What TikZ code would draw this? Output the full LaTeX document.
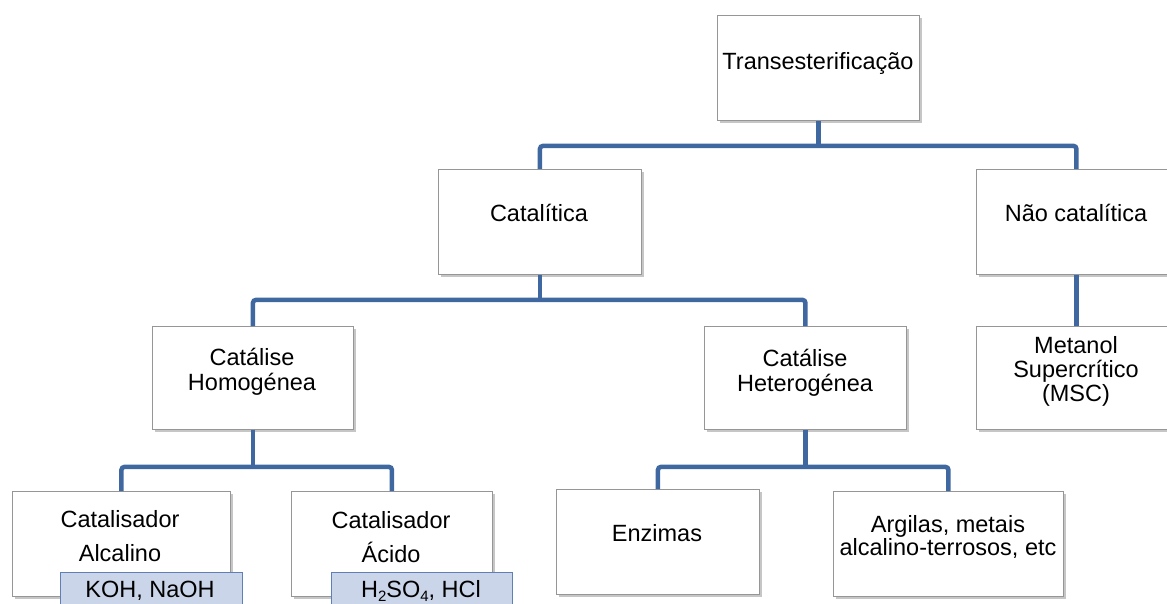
\documentclass[tikz,border=0pt]{standalone}
\usepackage{fontspec}
\setmainfont{Liberation Sans}
\usetikzlibrary{shadows,calc}
\definecolor{connc}{RGB}{63,104,160}
\definecolor{boxedge}{RGB}{150,150,150}
\definecolor{tagfill}{RGB}{203,213,233}
\definecolor{tagedge}{RGB}{95,128,182}
\newcommand{\lowidx}[1]{\raisebox{-4pt}{\fontsize{15}{15}\selectfont #1}}
\begin{document}
\begin{tikzpicture}[x=1pt,y=-1pt,
  box/.style={draw=boxedge, line width=0.9pt, fill=white, rectangle, inner sep=0pt, anchor=north west,
    drop shadow={shadow xshift=2.5pt, shadow yshift=-3pt, opacity=0.45}},
  tag/.style={draw=tagedge, line width=1.2pt, fill=tagfill, rectangle, inner sep=0pt, anchor=north west},
  lbl/.style={font=\fontsize{23.5}{25}\selectfont, align=center, inner sep=0pt, anchor=base},
  link/.style={draw=connc, line width=4.5pt, rounded corners=3pt}]
\useasboundingbox (0,0) rectangle (1167,604);
\clip (0,0) rectangle (1167,604);
% boxes
\node[box, minimum width=202pt, minimum height=105pt] (T) at (717,15) {};
\node[box, minimum width=203pt, minimum height=105pt] (C) at (438,169) {};
\node[box, minimum width=200pt, minimum height=105pt] (N) at (976,169) {};
\node[box, minimum width=200pt, minimum height=103pt] (M) at (976,326) {};
\node[box, minimum width=201pt, minimum height=103pt] (Ho) at (152,326) {};
\node[box, minimum width=202pt, minimum height=103pt] (He) at (704,326) {};
\node[box, minimum width=218pt, minimum height=105pt] (A) at (12,491) {};
\node[box, minimum width=201pt, minimum height=105pt] (Ac) at (291,491) {};
\node[box, minimum width=203pt, minimum height=105pt] (E) at (556,489) {};
\node[box, minimum width=230pt, minimum height=105pt] (Ar) at (833,491) {};
\node[tag, minimum width=182pt, minimum height=40pt] (K) at (60,572) {};
\node[tag, minimum width=181pt, minimum height=40pt] (H) at (331,572) {};
% connectors
\coordinate (j1) at ($(T.south)+(0,25)$);
\draw[link] (C.north) |- (j1) -| (N.north);
\draw[link] (T.south) -- (j1);
\draw[link] (N.south) -- (M.north);
\coordinate (j2) at ($(C.south)+(0,25)$);
\draw[link] (Ho.north) |- (j2) -| (He.north);
\draw[link] (C.south) -- (j2);
\coordinate (j3) at ($(Ho.south)+(0,37)$);
\draw[link] (A.north) |- (j3) -| (Ac.north);
\draw[link] (Ho.south) -- (j3);
\coordinate (j4) at ($(He.south)+(0,37)$);
\draw[link] (E.north) |- (j4) -| (Ar.north);
\draw[link] (He.south) -- (j4);
% labels (base anchor = baseline of last line)
\node[lbl] (tT) at (818,70) {Transesterificação};
\node[lbl] (tC) at (539,222) {Catalítica};
\node[lbl] (tN) at (1076,222) {Não catalítica};
\node[lbl, font=\fontsize{23.5}{24}\selectfont] (tM) at (1076,401) {Metanol\\Supercrítico\\(MSC)};
\node[lbl] (tHo) at (252,390) {Catálise\\Homogénea};
\node[lbl] (tHe) at (805,391) {Catálise\\Heterogénea};
\node[lbl, font=\fontsize{23.5}{34}\selectfont] (tA) at (120,561) {Catalisador\\Alcalino};
\node[lbl, font=\fontsize{23.5}{34}\selectfont] (tAc) at (391,562) {Catalisador\\Ácido};
\node[lbl] (tE) at (657,541) {Enzimas};
\node[lbl, font=\fontsize{23.5}{23}\selectfont] (tAr) at (948,555) {Argilas, metais\\alcalino-terrosos, etc};
\node[lbl] (tK) at (150,597) {KOH, NaOH};
\node[lbl] (tH) at (421,597) {H\lowidx{2}SO\lowidx{4}, HCl};
\end{tikzpicture}
\end{document}
